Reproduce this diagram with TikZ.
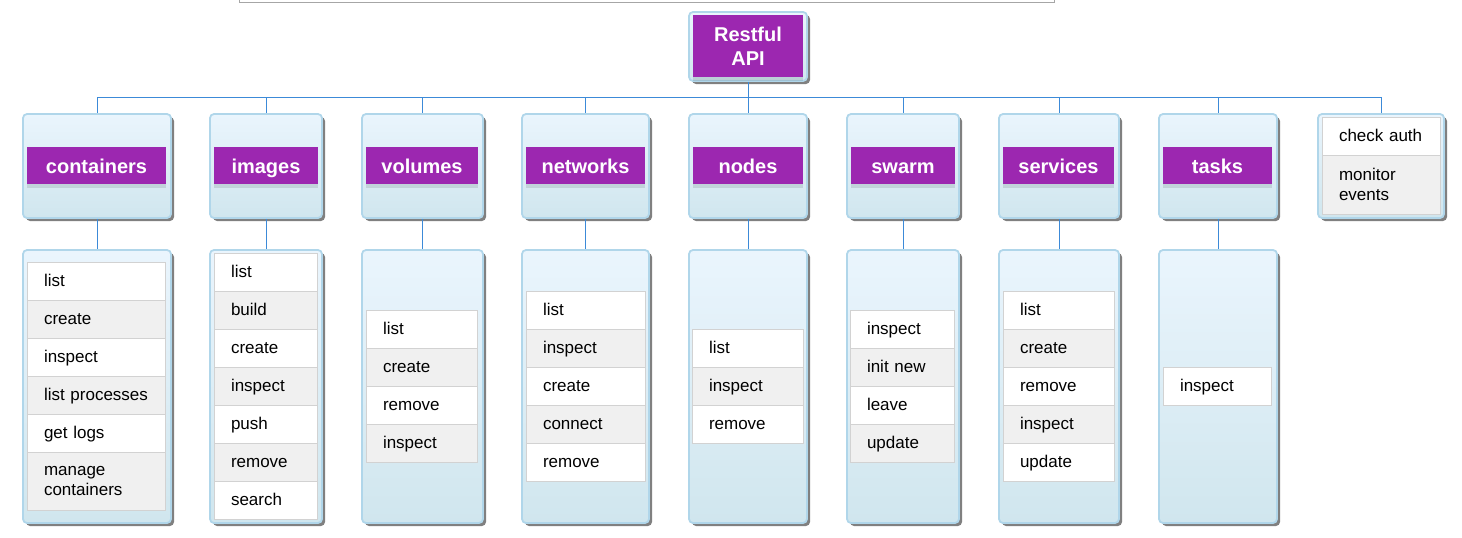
\documentclass[tikz,border=0pt]{standalone}
\usepackage{fontspec}
\setmainfont{Liberation Sans}
\usetikzlibrary{shadows}
\definecolor{purp}{HTML}{9C27B0}
\definecolor{topc}{HTML}{EAF5FD}
\definecolor{botc}{HTML}{D0E6EE}
\definecolor{framec}{HTML}{B0D6EA}
\definecolor{shadowc}{HTML}{808080}
\definecolor{connblue}{HTML}{3C8AD8}
\definecolor{rowgray}{HTML}{F0F0F0}
\definecolor{rowb}{HTML}{D2D2D2}
\tikzset{
  conn/.style={draw=connblue, line width=1pt},
  frame/.style={rectangle, rounded corners=4pt, draw=framec, line width=1.8pt,
    top color=topc, bottom color=botc, inner sep=0pt,
    drop shadow={shadow xshift=3pt, shadow yshift=-3pt, fill=shadowc, opacity=1}},
  lab/.style={rectangle, fill=purp, text=white, inner sep=0pt,
    font=\bfseries\fontsize{20}{24}\selectfont, align=center,
    drop shadow={shadow xshift=0pt, shadow yshift=-4pt, fill=black, opacity=0.1}},
  row/.style={rectangle, draw=rowb, line width=0.8pt, inner xsep=17pt, inner ysep=0pt,
    align=left, font=\fontsize{17}{20}\selectfont, text=black, minimum height=38pt},
  oneline/.style={text height=13pt, text depth=3pt}
}
% #1 prefix, #2 left, #3 right, #4 top, #5 list
\newcommand\rowlist[5]{%
  \pgfmathsetmacro\rlw{#3-#2}%
  \pgfmathsetmacro\rltw{#3-#2-34}%
  \pgfmathsetmacro\rlx{(#2+#3)/2}%
  \foreach [count=\i] \t in {#5} {%
    \pgfmathsetmacro\yc{#4+38*(\i-0.5)}%
    \ifodd\i \def\rf{white}\else\def\rf{rowgray}\fi
    \node[row, oneline, fill=\rf, minimum width=\rlw pt, text width=\rltw pt] (#1\i) at (\rlx,\yc) {\t};
  }%
}
% #1 name, #2 left, #3 right, #4 top, #5 bottom
\newcommand\mkframe[5]{%
  \pgfmathsetmacro\fbw{#3-#2}%
  \pgfmathsetmacro\fbh{#5-#4}%
  \node[frame, minimum width=\fbw pt, minimum height=\fbh pt] (#1) at ({(#2+#3)/2},{(#4+#5)/2}) {};
}
% #1 name, #2 left, #3 right, #4 text
\newcommand\catlabel[4]{%
  \pgfmathsetmacro\clw{#3-#2}%
  \node[lab, text height=15pt, text depth=0pt, minimum width=\clw pt, minimum height=37pt] (#1) at ({(#2+#3)/2},165.5) {#4};
}
\begin{document}
\begin{tikzpicture}[x=1pt,y=-1pt]
\useasboundingbox (0,0) rectangle (1462,538);
\draw[gray!70, line width=1pt] (239.5,0) -- (239.5,2) -- (1054,2) -- (1054,0);

% root
\mkframe{rootf}{689}{807}{12}{81}
\node[lab, minimum width=110pt, minimum height=62pt] (root) at (748,46) {Restful\\API};
\coordinate (bus) at (748,97);

% category frames
\mkframe{fcont}{23}{171}{114}{218}
\mkframe{fimg}{210}{322}{114}{218}
\mkframe{fvol}{362}{483}{114}{218}
\mkframe{fnet}{522}{649}{114}{218}
\mkframe{fnod}{689}{807}{114}{218}
\mkframe{fswm}{847}{959}{114}{218}
\mkframe{fsrv}{999}{1119}{114}{218}
\mkframe{ftsk}{1159}{1277}{114}{218}
\mkframe{fauth}{1318}{1444}{114}{218}

\catlabel{lcont}{27}{166}{containers}
\catlabel{limg}{214}{318}{images}
\catlabel{lvol}{366}{478}{volumes}
\catlabel{lnet}{526}{645}{networks}
\catlabel{lnod}{693}{803}{nodes}
\catlabel{lswm}{851}{955}{swarm}
\catlabel{lsrv}{1003}{1114}{services}
\catlabel{ltsk}{1163}{1272}{tasks}

% item frames
\mkframe{icont}{23}{171}{250}{523}
\mkframe{iimg}{210}{322}{250}{523}
\mkframe{ivol}{362}{483}{250}{523}
\mkframe{inet}{522}{649}{250}{523}
\mkframe{inod}{689}{807}{250}{523}
\mkframe{iswm}{847}{959}{250}{523}
\mkframe{isrv}{999}{1119}{250}{523}
\mkframe{itsk}{1159}{1277}{250}{523}

% connectors
\draw[conn] (rootf.south) -- (bus);
\foreach \c in {fcont,fimg,fvol,fnet,fnod,fswm,fsrv,ftsk,fauth} {
  \draw[conn] (bus) -| (\c.north);
}
\draw[conn] (fcont.south) -- (icont.north);
\draw[conn] (fimg.south) -- (iimg.north);
\draw[conn] (fvol.south) -- (ivol.north);
\draw[conn] (fnet.south) -- (inet.north);
\draw[conn] (fnod.south) -- (inod.north);
\draw[conn] (fswm.south) -- (iswm.north);
\draw[conn] (fsrv.south) -- (isrv.north);
\draw[conn] (ftsk.south) -- (itsk.north);

% rows
\rowlist{c}{27}{165}{262}{list,create,inspect,list processes,get logs}
\node[row, fill=rowgray, minimum width=138pt, minimum height=58pt, text width=104pt] (c6) at (96,481) {manage\\containers};
\rowlist{im}{214}{317}{253}{list,build,create,inspect,push,remove,search}
\rowlist{v}{366}{477}{310}{list,create,remove,inspect}
\rowlist{n}{526}{645}{291}{list,inspect,create,connect,remove}
\rowlist{nd}{692}{803}{329}{list,inspect,remove}
\rowlist{s}{850}{954}{310}{inspect,init new,leave,update}
\rowlist{sv}{1003}{1114}{291}{list,create,remove,inspect,update}
\rowlist{t}{1163}{1271}{367}{inspect}
\node[row, oneline, fill=white, minimum width=118pt, text width=84pt] (a1) at (1381,136) {check auth};
\node[row, fill=rowgray, minimum width=118pt, minimum height=59pt, text width=84pt] (a2) at (1381,184.5) {monitor\\events};
\end{tikzpicture}
\end{document}
